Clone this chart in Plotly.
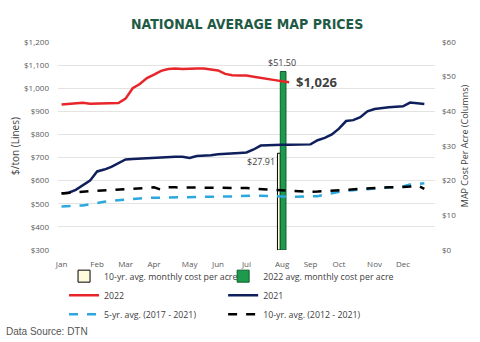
import plotly.graph_objects as go

weeks = list(range(52))
month_labels = ["Jan", "Feb", "Mar", "Apr", "May", "Jun", "Jul", "Aug", "Sep", "Oct", "Nov", "Dec"]
month_weeks = [0, 5, 9, 13, 18, 22, 26, 31, 35, 39, 44, 48]

y2022 = [930, 932, 933, 937, 933, 934, 935, 935, 936, 955, 1000, 1018, 1044, 1059, 1075, 1083,
         1085, 1083, 1085, 1085, 1085, 1082, 1077, 1062, 1056, 1055, 1055, 1050, 1044, 1040,
         1035, 1030, 1026]
y2021 = [545, 548, 560, 580, 600, 640, 648, 660, 675, 692, 694, 696, 698, 700, 701, 702, 703,
         703, 698, 707, 708, 710, 714, 717, 719, 720, 722, 735, 752, 754, 755, 755, 755, 755,
         755, 757, 775, 785, 800, 825, 858, 862, 875, 900, 910, 915, 918, 920, 922, 938, 936, 932]
avg5 = [488, 489, 490, 493, 498, 505, 509, 513, 516, 520, 522, 525, 526, 526, 527, 527, 528,
        528, 529, 529, 530, 530, 530, 531, 532, 534, 535, 535, 535, 534, 532, 531, 530, 530,
        530, 531, 533, 540, 546, 552, 557, 559, 561, 564, 566, 568, 570, 571, 575, 583, 587, 589]
avg10 = [545, 548, 550, 553, 555, 556, 557, 558, 560, 563, 565, 567, 569, 571, 561, 571, 571,
         571, 571, 571, 571, 571, 571, 571, 570, 570, 568, 565, 563, 561, 560, 560, 558, 555,
         553, 552, 553, 555, 557, 560, 563, 564, 566, 568, 570, 570, 571, 571, 573, 575, 580, 565]

bar_week = [31]
bar10 = [27.91]
bar2022 = [51.50]

left_ticks = [300, 400, 500, 600, 700, 800, 900, 1000, 1100, 1200]
left_labels = ["$300", "$400", "$500", "$600", "$700", "$800", "$900", "$1,000", "$1,100", "$1,200"]
right_ticks = [0, 10, 20, 30, 40, 50, 60]
right_labels = ["$0", "$10", "$20", "$30", "$40", "$50", "$60"]

tick_font = dict(family="Open Sans, Liberation Sans, sans-serif", size=8, color="#595959")
txt = "#404040"

fig = go.Figure()

fig.add_trace(go.Bar(x=bar_week, y=bar10, name="10-yr. avg. monthly cost per acre",
                     marker=dict(color="#FFFBDD", line=dict(color="#000000", width=1)),
                     width=0.4, offset=-0.65, yaxis="y", legend="legend"))
fig.add_trace(go.Bar(x=bar_week, y=bar2022, name="2022 avg. monthly cost per acre",
                     marker=dict(color="#1E9A4C", line=dict(color="#0B5E2A", width=1)),
                     width=0.8, offset=-0.25, yaxis="y", legend="legend2"))

fig.add_trace(go.Scatter(x=weeks[:len(y2022)], y=y2022, name="2022", mode="lines",
                         line=dict(color="#E8262A", width=2.5), yaxis="y2", legend="legend"))
fig.add_trace(go.Scatter(x=weeks, y=y2021, name="2021", mode="lines",
                         line=dict(color="#0F1F5C", width=2.5), yaxis="y2", legend="legend2"))
fig.add_trace(go.Scatter(x=weeks, y=avg5, name="5-yr. avg. (2017 - 2021)", mode="lines",
                         line=dict(color="#2BA8DE", width=2.5, dash="dash"), yaxis="y2", legend="legend"))
fig.add_trace(go.Scatter(x=weeks, y=avg10, name="10-yr. avg. (2012 - 2021)", mode="lines",
                         line=dict(color="#000000", width=2.5, dash="dash"), yaxis="y2", legend="legend2"))

# annotations tied to data
fig.add_annotation(x=bar_week[0] - 0.05, y=bar2022[0], xref="x", yref="y",
                   text="$" + f"{bar2022[0]:.2f}", showarrow=False, yanchor="bottom",
                   font=dict(family="Open Sans, sans-serif", size=9, color=txt))
fig.add_annotation(x=bar_week[0] - 0.7, y=bar10[0], xref="x", yref="y",
                   text="$" + f"{bar10[0]:.2f}", showarrow=False, xanchor="right", yanchor="top",
                   font=dict(family="Open Sans, sans-serif", size=9, color=txt))
fig.add_annotation(x=len(y2022) - 1 + 0.7, y=y2022[-1], xref="x", yref="y2",
                   text="<b>$" + f"{y2022[-1]:,}" + "</b>", showarrow=False, xanchor="left",
                   font=dict(family="Open Sans, sans-serif", size=13, color=txt))
fig.add_annotation(x=0.5, y=1.085, xref="paper", yref="paper", xanchor="center", yanchor="middle",
                   text="<b>NATIONAL AVERAGE MAP PRICES</b>", showarrow=False,
                   font=dict(family="Liberation Sans Narrow, DejaVu Sans Condensed, sans-serif",
                             size=14, color="#1F5A44"))
fig.add_annotation(x=-0.142, y=-0.39, xref="paper", yref="paper", xanchor="left", yanchor="middle",
                   text="Data Source: DTN", showarrow=False,
                   font=dict(family="Liberation Sans, Arial, sans-serif", size=10, color="#555555"))

legend_font = dict(family="Open Sans, sans-serif", size=8.8, color=txt)

fig.update_layout(
    width=480, height=342,
    margin=dict(l=58, r=45, t=42, b=92, autoexpand=False),
    paper_bgcolor="white", plot_bgcolor="white",
    showlegend=True,
    barmode="overlay",
    legend=dict(orientation="v", x=0.016, xanchor="left", y=-0.056, yanchor="top",
                font=legend_font, tracegroupgap=0, itemwidth=30, traceorder="normal",
                bgcolor="rgba(0,0,0,0)"),
    legend2=dict(orientation="v", x=0.438, xanchor="left", y=-0.056, yanchor="top",
                 font=legend_font, tracegroupgap=0, itemwidth=30, traceorder="normal",
                 bgcolor="rgba(0,0,0,0)"),
    xaxis=dict(range=[-0.5, 52.5], tickmode="array", tickvals=month_weeks, ticktext=month_labels,
               showgrid=False, zeroline=False, showline=False, ticks="outside", ticklen=6,
               tickcolor="rgba(0,0,0,0)", tickfont=tick_font),
    yaxis=dict(range=[0, 60], side="right", tickvals=right_ticks, ticktext=right_labels,
               showgrid=False, zeroline=False, tickfont=tick_font, ticklabelstandoff=6,
               title=dict(text="MAP Cost Per Acre (Columns)", font=dict(family="Open Sans, sans-serif", size=9, color=txt), standoff=6)),
    yaxis2=dict(range=[300, 1200], side="left", overlaying="y", tickvals=left_ticks, ticktext=left_labels,
                showgrid=True, gridcolor="#E3E3E3", gridwidth=1, zeroline=False, tickfont=tick_font,
                ticklabelstandoff=8,
                title=dict(text="$/ton (Lines)", font=dict(family="Open Sans, sans-serif", size=10, color=txt), standoff=2)),
)

fig.write_html("out.html")
